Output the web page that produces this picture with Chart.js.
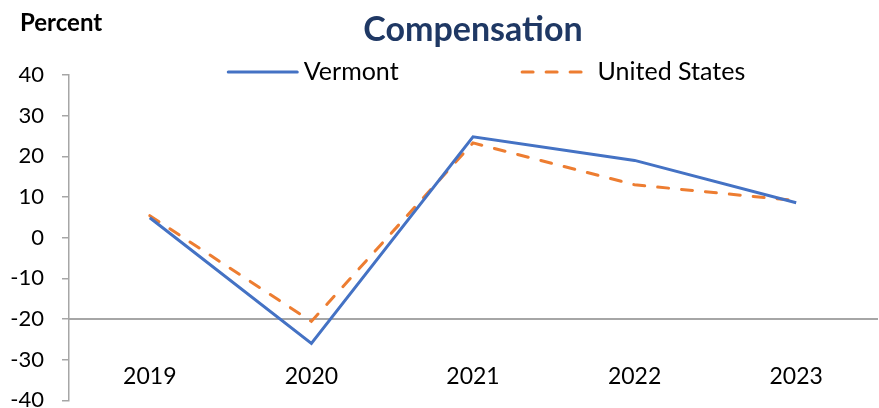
<!DOCTYPE html>
<html>
<head>
<meta charset="utf-8">
<script src="https://cdn.jsdelivr.net/npm/chart.js@4"></script>
<style>
  html, body { margin: 0; padding: 0; background: #fff; overflow: hidden; }
  /* the canvas runs a little past the bottom edge, so the lowest tick label is cut like the original */
  #wrap { position: relative; width: 879px; height: 408px; overflow: hidden; }
  #unit { position: absolute; left: 20px; top: 7px; font: bold 24px Lato, sans-serif; color: #000; }
</style>
</head>
<body>
<div id="wrap">
  <canvas id="chart" width="879" height="426"></canvas>
  <div id="unit">Percent</div>
</div>
<script>
const YEARS = ["2019", "2020", "2021", "2022", "2023"];
const VERMONT = [4.9, -26.0, 24.8, 19.0, 8.6];
const UNITED_STATES = [5.4, -20.6, 23.3, 13.0, 9.1];
const Y_MIN = -40, Y_MAX = 40, Y_STEP = 10;

const FONT = "Lato, sans-serif";
const AXIS_GREY = "#a6a6a6";

// legend drawn above the plot, overlapping the top of the axis like the original
const lineLegend = {
  id: "lineLegend",
  afterDraw(chart) {
    const { ctx, chartArea } = chart;
    const lineLen = 72, gap = 5, spacing = 122;
    ctx.save();
    ctx.font = "25px " + FONT;
    const items = chart.data.datasets.map(ds => ({ ds, w: ctx.measureText(ds.label).width }));
    const total = items.reduce((s, it) => s + lineLen + gap + it.w, 0) + spacing * (items.length - 1);
    let x = (chartArea.left + chartArea.right) / 2 + 13 - total / 2;
    const y = 72;
    items.forEach(({ ds, w }) => {
      ctx.strokeStyle = ds.borderColor;
      ctx.lineWidth = ds.borderWidth;
      ctx.lineCap = "round";
      ctx.setLineDash(ds.borderDash || []);
      ctx.beginPath();
      ctx.moveTo(x + 1.5, y);
      ctx.lineTo(x + lineLen - 1.5, y);
      ctx.stroke();
      ctx.setLineDash([]);
      ctx.fillStyle = "#000";
      ctx.textBaseline = "middle";
      ctx.fillText(ds.label, x + lineLen + gap, y);
      x += lineLen + gap + w + spacing;
    });
    ctx.restore();
  }
};

new Chart(document.getElementById("chart"), {
  type: "line",
  data: {
    labels: YEARS,
    datasets: [
      {
        label: "Vermont",
        data: VERMONT,
        borderColor: "#4472C4",
        borderWidth: 3,
        pointRadius: 0,
        tension: 0
      },
      {
        label: "United States",
        data: UNITED_STATES,
        borderColor: "#ED7D31",
        borderWidth: 3,
        borderDash: [11, 13],
        borderCapStyle: "round",
        pointRadius: 0,
        tension: 0
      }
    ]
  },
  options: {
    responsive: false,
    animation: false,
    layout: { padding: { left: 0, right: 2, top: 0, bottom: 0 } },
    plugins: {
      legend: { display: false },
      tooltip: { enabled: false },
      title: {
        display: true,
        text: "Compensation",
        fullSize: false,
        color: "#1F3864",
        font: { family: FONT, size: 34, weight: "bold", lineHeight: 1.2 },
        padding: { top: 10, bottom: 24.2 }
      }
    },
    scales: {
      x: {
        type: "category",
        offset: true,
        position: { y: -20 },
        afterFit(scale) { scale.height = 0; },
        grid: { display: false, drawTicks: false },
        border: { display: true, color: AXIS_GREY, width: 2 },
        ticks: { color: "#000", padding: 44, font: { family: FONT, size: 23 } }
      },
      y: {
        min: Y_MIN,
        max: Y_MAX,
        afterFit(scale) { scale.width = 69; },
        grid: { drawOnChartArea: false, tickLength: 7, color: AXIS_GREY, lineWidth: 1.5 },
        border: { display: true, color: AXIS_GREY, width: 1.5 },
        ticks: {
          stepSize: Y_STEP,
          color: "#000",
          padding: 18,
          font: { family: FONT, size: 22, lineHeight: 0.7 }
        }
      }
    }
  },
  plugins: [lineLegend]
});
</script>
</body>
</html>
